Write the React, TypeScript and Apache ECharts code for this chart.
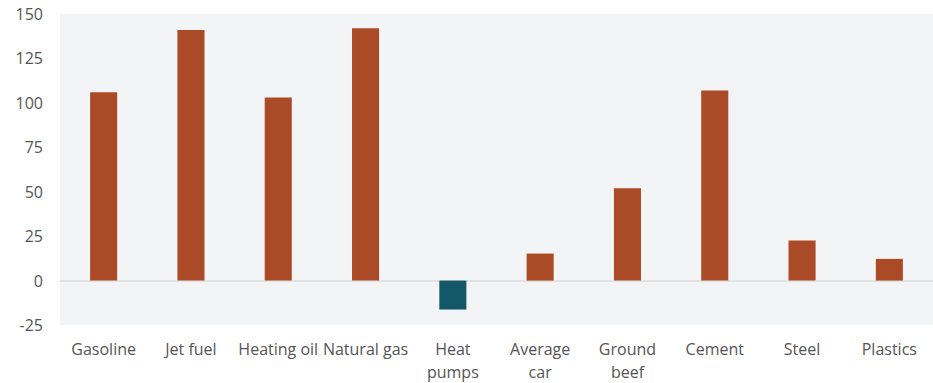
import React, { useEffect, useRef } from "react";
import * as echarts from "echarts";

// Change in value per item (units as labelled on the axis)
const categories = [
  "Gasoline",
  "Jet fuel",
  "Heating oil",
  "Natural gas",
  "Heat\npumps",
  "Average\ncar",
  "Ground\nbeef",
  "Cement",
  "Steel",
  "Plastics",
];
const values = [106, 141, 103, 142, -16.3, 15.2, 52, 107, 22.5, 12.2];
const yTicks = { min: -25, max: 150, interval: 25 };

const POSITIVE = "#ab4a26";
const NEGATIVE = "#145767";
const TEXT = "#555555";
const FONT = "Open Sans";

export default function App() {
  const ref = useRef<HTMLDivElement>(null);

  useEffect(() => {
    document.body.style.margin = "0";
    if (!ref.current) return;
    const chart = echarts.init(ref.current, undefined, { renderer: "svg" });
    chart.setOption({
      animation: false,
      grid: {
        left: 60,
        right: 0,
        top: 14,
        bottom: 57,
        show: true,
        backgroundColor: "#f3f4f6",
        borderWidth: 0,
      },
      xAxis: {
        type: "category",
        data: categories,
        axisLine: { onZero: true, lineStyle: { color: "#dcdddd", width: 1.5 } },
        axisTick: { show: false },
        axisLabel: {
          color: TEXT,
          fontFamily: FONT,
          fontSize: 16,
          lineHeight: 23,
          margin: 12,
          interval: 0,
        },
      },
      yAxis: {
        type: "value",
        min: yTicks.min,
        max: yTicks.max,
        interval: yTicks.interval,
        splitLine: { show: false },
        axisLine: { show: false },
        axisTick: { show: false },
        axisLabel: {
          color: TEXT,
          fontFamily: FONT,
          fontSize: 16,
          margin: 17,
        },
      },
      series: [
        {
          type: "bar",
          barWidth: "31%",
          data: values.map((v) => ({
            value: v,
            itemStyle: { color: v < 0 ? NEGATIVE : POSITIVE },
          })),
        },
      ],
    });
    return () => chart.dispose();
  }, []);

  return <div ref={ref} style={{ width: 933, height: 383 }} />;
}
